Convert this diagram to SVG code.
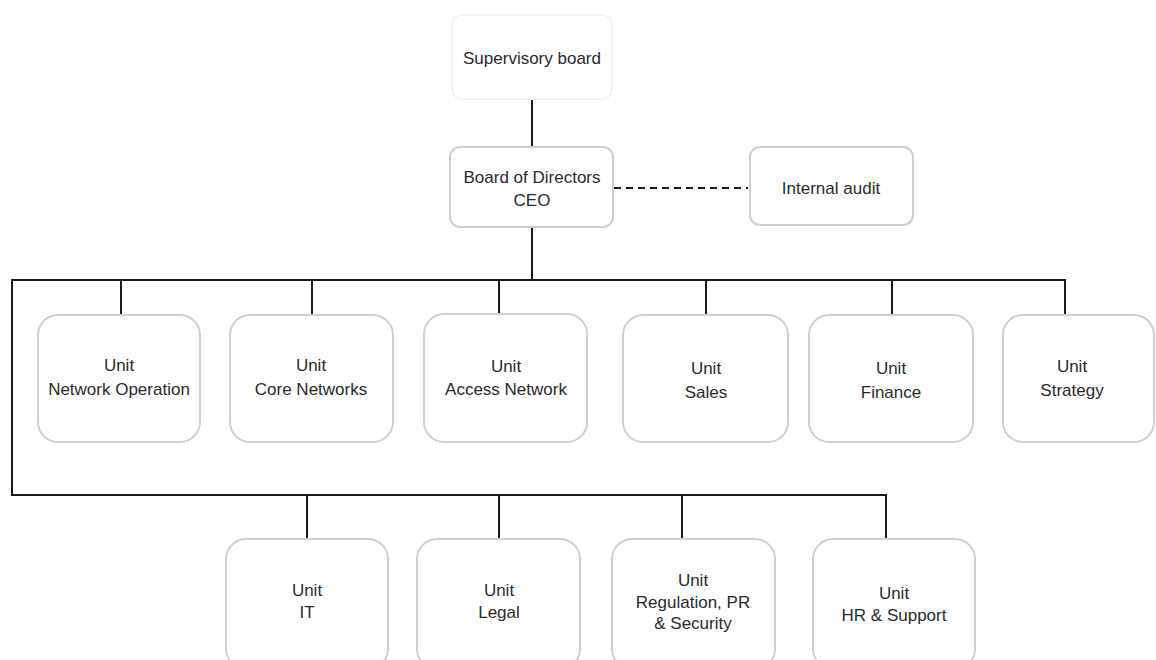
<svg xmlns="http://www.w3.org/2000/svg" width="1156" height="660" viewBox="0 0 1156 660">
<style>
.box{fill:#fff;stroke:#cfcfcf;stroke-width:2}
.faint{fill:#fff;stroke:#f0f0f0;stroke-width:1.5}
.t{font-family:"Liberation Sans",Arial,sans-serif;font-size:17px;fill:#2a2a2a;text-anchor:middle}
.ln{stroke:#1a1a1a;stroke-width:2;fill:none}
.dash{stroke:#1a1a1a;stroke-width:2;fill:none;stroke-dasharray:7 5}
</style>
<rect width="1156" height="660" fill="#fff"/>
<g id="connectors">
<line class="ln" x1="532" y1="100" x2="532" y2="147"/>
<line class="dash" x1="614" y1="188" x2="748" y2="188"/>
<line class="ln" x1="532" y1="227" x2="532" y2="280"/>
<polyline class="ln" points="1065,315 1065,280 12,280 12,495 886,495 886,538"/>
<line class="ln" x1="121" y1="280" x2="121" y2="315"/>
<line class="ln" x1="312" y1="280" x2="312" y2="315"/>
<line class="ln" x1="499" y1="280" x2="499" y2="313"/>
<line class="ln" x1="706" y1="280" x2="706" y2="315"/>
<line class="ln" x1="892" y1="280" x2="892" y2="315"/>
<line class="ln" x1="307" y1="495" x2="307" y2="539"/>
<line class="ln" x1="499" y1="495" x2="499" y2="539"/>
<line class="ln" x1="682" y1="495" x2="682" y2="539"/>
</g>
<g id="supervisory">
<rect class="faint" x="452" y="15" width="160" height="84" rx="10"/>
<text class="t" x="532" y="64">Supervisory board</text>
</g>
<g id="board">
<rect class="box" x="450" y="147" width="163" height="80" rx="10"/>
<text class="t" x="532" y="183">Board of Directors</text>
<text class="t" x="532" y="206">CEO</text>
</g>
<g id="audit">
<rect class="box" x="750" y="147" width="163" height="78" rx="10"/>
<text class="t" x="831" y="194">Internal audit</text>
</g>
<g id="u-netop">
<rect class="box" x="38" y="315" width="162" height="127" rx="20"/>
<text class="t" x="119" y="371">Unit</text>
<text class="t" x="119" y="395">Network Operation</text>
</g>
<g id="u-core">
<rect class="box" x="230" y="315" width="163" height="127" rx="20"/>
<text class="t" x="311" y="371">Unit</text>
<text class="t" x="311" y="395">Core Networks</text>
</g>
<g id="u-access">
<rect class="box" x="424" y="314" width="163" height="128" rx="20"/>
<text class="t" x="506" y="372">Unit</text>
<text class="t" x="506" y="395">Access Network</text>
</g>
<g id="u-sales">
<rect class="box" x="623" y="315" width="165" height="127" rx="20"/>
<text class="t" x="706" y="374">Unit</text>
<text class="t" x="706" y="398">Sales</text>
</g>
<g id="u-finance">
<rect class="box" x="809" y="315" width="164" height="127" rx="20"/>
<text class="t" x="891" y="374">Unit</text>
<text class="t" x="891" y="398">Finance</text>
</g>
<g id="u-strategy">
<rect class="box" x="1003" y="315" width="151" height="127" rx="20"/>
<text class="t" x="1072" y="372">Unit</text>
<text class="t" x="1072" y="396">Strategy</text>
</g>
<g id="u-it">
<rect class="box" x="226" y="539" width="162" height="130" rx="20"/>
<text class="t" x="307" y="596">Unit</text>
<text class="t" x="307" y="618">IT</text>
</g>
<g id="u-legal">
<rect class="box" x="417" y="539" width="163" height="130" rx="20"/>
<text class="t" x="499" y="596">Unit</text>
<text class="t" x="499" y="618">Legal</text>
</g>
<g id="u-reg">
<rect class="box" x="612" y="539" width="163" height="130" rx="20"/>
<text class="t" x="693" y="586">Unit</text>
<text class="t" x="693" y="608">Regulation, PR</text>
<text class="t" x="693" y="629">&amp; Security</text>
</g>
<g id="u-hr">
<rect class="box" x="813" y="539" width="162" height="130" rx="20"/>
<text class="t" x="894" y="599">Unit</text>
<text class="t" x="894" y="621">HR &amp; Support</text>
</g>
</svg>
